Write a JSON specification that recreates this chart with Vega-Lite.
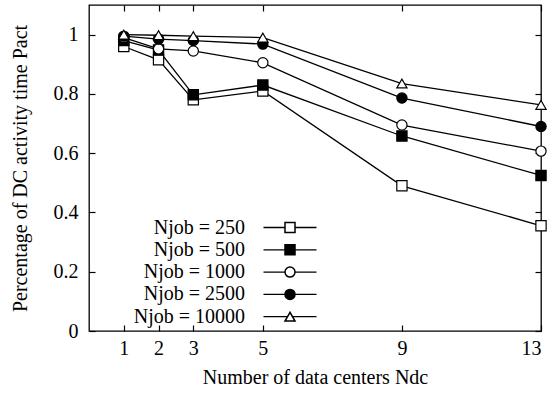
{
  "$schema": "https://vega.github.io/schema/vega-lite/v6.json",
  "width": 452,
  "height": 326,
  "autosize": "none",
  "padding": {"left": 89, "top": 5, "right": 10, "bottom": 62},
  "background": "white",
  "config": {
    "font": "Liberation Serif",
    "view": {"stroke": "black", "strokeWidth": 1.3},
    "axis": {"grid": false, "domain": false, "tickColor": "black", "tickWidth": 1.2, "labelColor": "black", "titleColor": "black", "labelFontSize": 20, "titleFontSize": 20, "titleFontWeight": "normal", "labelFont": "Liberation Serif", "titleFont": "Liberation Serif"},
    "legend": {"labelFont": "Liberation Serif", "labelFontSize": 20, "labelColor": "black"}
  },
  "data": {"values": [
    {"ndc": 1, "pact": 0.96, "series": "Njob = 250"},
    {"ndc": 2, "pact": 0.915, "series": "Njob = 250"},
    {"ndc": 3, "pact": 0.78, "series": "Njob = 250"},
    {"ndc": 5, "pact": 0.81, "series": "Njob = 250"},
    {"ndc": 9, "pact": 0.49, "series": "Njob = 250"},
    {"ndc": 13, "pact": 0.355, "series": "Njob = 250"},
    {"ndc": 1, "pact": 0.98, "series": "Njob = 500"},
    {"ndc": 2, "pact": 0.948, "series": "Njob = 500"},
    {"ndc": 3, "pact": 0.797, "series": "Njob = 500"},
    {"ndc": 5, "pact": 0.83, "series": "Njob = 500"},
    {"ndc": 9, "pact": 0.658, "series": "Njob = 500"},
    {"ndc": 13, "pact": 0.525, "series": "Njob = 500"},
    {"ndc": 1, "pact": 0.99, "series": "Njob = 1000"},
    {"ndc": 2, "pact": 0.952, "series": "Njob = 1000"},
    {"ndc": 3, "pact": 0.945, "series": "Njob = 1000"},
    {"ndc": 5, "pact": 0.905, "series": "Njob = 1000"},
    {"ndc": 9, "pact": 0.695, "series": "Njob = 1000"},
    {"ndc": 13, "pact": 0.607, "series": "Njob = 1000"},
    {"ndc": 1, "pact": 0.995, "series": "Njob = 2500"},
    {"ndc": 2, "pact": 0.985, "series": "Njob = 2500"},
    {"ndc": 3, "pact": 0.98, "series": "Njob = 2500"},
    {"ndc": 5, "pact": 0.968, "series": "Njob = 2500"},
    {"ndc": 9, "pact": 0.786, "series": "Njob = 2500"},
    {"ndc": 13, "pact": 0.69, "series": "Njob = 2500"},
    {"ndc": 1, "pact": 1.0, "series": "Njob = 10000"},
    {"ndc": 2, "pact": 0.998, "series": "Njob = 10000"},
    {"ndc": 3, "pact": 0.995, "series": "Njob = 10000"},
    {"ndc": 5, "pact": 0.99, "series": "Njob = 10000"},
    {"ndc": 9, "pact": 0.835, "series": "Njob = 10000"},
    {"ndc": 13, "pact": 0.763, "series": "Njob = 10000"}
  ]},
  "layer": [
    {
      "mark": {"type": "line", "strokeWidth": 1.3},
      "encoding": {
        "x": {"field": "ndc", "type": "quantitative", "scale": {"domain": [0, 13], "nice": false, "zero": false},
              "axis": {"orient": "bottom", "values": [1, 2, 3, 5, 9, 13], "format": "d", "tickSize": -6, "labelPadding": 13, "title": "Number of data centers Ndc", "titlePadding": 9}},
        "y": {"field": "pact", "type": "quantitative", "scale": {"domain": [0, 1.1], "nice": false},
              "axis": {"orient": "left", "values": [0, 0.2, 0.4, 0.6, 0.8, 1], "format": "~g", "tickSize": -6, "labelPadding": 17, "title": "Percentage of DC activity time Pact", "titlePadding": 23}},
        "color": {"field": "series", "type": "nominal", "sort": null,
                  "scale": {"range": ["black", "black", "black", "black", "black"]},
                  "legend": {"orient": "none", "legendX": 191, "legendY": 212.5, "title": null, "symbolType": "M-5.3,0H5.3", "symbolSize": 100, "symbolStrokeWidth": 1.3, "labelAlign": "right", "labelOffset": -55, "rowPadding": 2.3,
                             "encode": {"symbols": {"update": {"stroke": {"value": "black"}, "strokeWidth": {"value": 1.3}, "fill": {"value": "transparent"}}}}}}
      }
    },
    {
      "mark": {"type": "point", "filled": true, "size": 105, "stroke": "black", "strokeWidth": 1.2, "opacity": 1},
      "encoding": {
        "x": {"field": "ndc", "type": "quantitative",
              "axis": {"orient": "top", "values": [1, 2, 3, 5, 9, 13], "labels": false, "tickSize": -6, "title": null}},
        "y": {"field": "pact", "type": "quantitative",
              "axis": {"orient": "right", "values": [0, 0.2, 0.4, 0.6, 0.8, 1], "labels": false, "tickSize": -6, "title": null}},
        "shape": {"field": "series", "type": "nominal",
                  "scale": {"domain": ["Njob = 250", "Njob = 500", "Njob = 1000", "Njob = 2500", "Njob = 10000"], "range": ["square", "square", "circle", "circle", "triangle-up"]},
                  "legend": {"orient": "none", "legendX": 191, "legendY": 212.5, "title": null, "labelOpacity": 0, "symbolSize": 100, "rowPadding": 2.3,
                             "encode": {"symbols": {"update": {"stroke": {"value": "black"}, "strokeWidth": {"value": 1.2}, "opacity": {"value": 1}}}}}},
        "fill": {"field": "series", "type": "nominal",
                 "scale": {"domain": ["Njob = 250", "Njob = 500", "Njob = 1000", "Njob = 2500", "Njob = 10000"], "range": ["white", "black", "white", "black", "white"]},
                 "legend": {"orient": "none", "legendX": 191, "legendY": 212.5, "title": null, "labelOpacity": 0, "symbolSize": 100, "rowPadding": 2.3,
                            "encode": {"symbols": {"update": {"stroke": {"value": "black"}, "strokeWidth": {"value": 1.2}, "opacity": {"value": 1}}}}}}
      }
    }
  ]
}
